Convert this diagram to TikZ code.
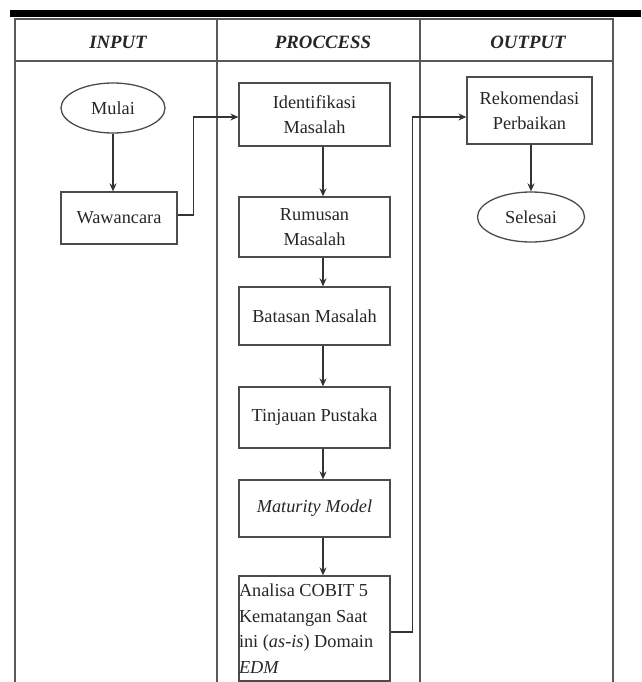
\documentclass[tikz,border=0pt]{standalone}
\usepackage{fontspec}
\setmainfont{Liberation Serif}
\usetikzlibrary{shapes.geometric,arrows.meta}
\begin{document}
\begin{tikzpicture}[x=1pt,y=-1pt,
  tab/.style={draw=black!65,line width=1.4pt},
  proc/.style={draw=black!70,line width=1.3pt,rectangle,align=center,inner sep=0pt,
    font=\fontsize{18.3}{25.5}\selectfont,text=black!85},
  term/.style={draw=black!70,line width=1.3pt,ellipse,inner sep=0pt,
    font=\fontsize{18.3}{25.5}\selectfont,text=black!85},
  head/.style={font=\fontsize{18.8}{22}\selectfont\bfseries\itshape,text=black!85},
  arr/.style={draw=black!80,line width=1.2pt,-{Stealth[length=8pt,width=7pt]}}
]
\useasboundingbox (0,0) rectangle (641,682);
% top bar
\fill[black] (10,10) rectangle (641,17);
% table
\draw[tab] (15,682) -- (15,19) -- (613,19) -- (613,682);
\draw[tab] (15,61) -- (613,61);
\draw[tab] (217,19) -- (217,682);
\draw[tab] (420,19) -- (420,682);
% headers
\node[head] (hin) at (118,42) {INPUT};
\node[head] (hpr) at (323,42) {PROCCESS};
\node[head] (hout) at (528,42) {OUTPUT};
% input column
\node[term,minimum width=104pt,minimum height=50pt] (mulai) at (113,108) {Mulai};
\node[proc,minimum width=116pt,minimum height=52pt] (waw) at (119,218) {Wawancara};
% process column
\node[proc,minimum width=151pt,minimum height=63pt] (ident) at (314.5,114.5) {Identifikasi\\Masalah};
\node[proc,minimum width=151pt,minimum height=60pt] (rum) at (314.5,227) {Rumusan\\Masalah};
\node[proc,minimum width=151pt,minimum height=58pt] (bat) at (314.5,316) {Batasan Masalah};
\node[proc,minimum width=151pt,minimum height=61pt] (tin) at (314.5,417.5) {Tinjauan Pustaka};
\node[proc,minimum width=151pt,minimum height=57pt] (mat) at (314.5,508.5) {\itshape Maturity Model};
\node[proc,minimum width=151pt,minimum height=105pt,text width=151pt,align=flush left] (ana) at (314.5,628.5)
  {Analisa COBIT 5\\Kematangan Saat\\ini (\textit{as-is}) Domain\\\textit{EDM}};
% output column
\node[proc,minimum width=125pt,minimum height=67pt] (rek) at (529.5,110.5) {Rekomendasi\\Perbaikan};
\node[term,minimum width=107pt,minimum height=50pt] (sel) at (531,217) {Selesai};
% connectors
\draw[arr] (mulai.south) -- (mulai.south |- waw.north);
\draw[arr] ([yshift=3pt]waw.east) -- ++(16,0) |- ([yshift=-2.5pt]ident.west);
\draw[arr] ([xshift=8.5pt]ident.south) -- ([xshift=8.5pt]rum.north);
\draw[arr] ([xshift=8.5pt]rum.south) -- ([xshift=8.5pt]bat.north);
\draw[arr] ([xshift=8.5pt]bat.south) -- ([xshift=8.5pt]tin.north);
\draw[arr] ([xshift=8.5pt]tin.south) -- ([xshift=8.5pt]mat.north);
\draw[arr] ([xshift=8.5pt]mat.south) -- ([xshift=8.5pt]ana.north);
\draw[arr] ([yshift=-3.5pt]ana.east) -- ++(22,0) |- ([yshift=-6.5pt]rek.west);
\draw[arr] ([xshift=1.5pt]rek.south) -- (sel.north);
\end{tikzpicture}
\end{document}
